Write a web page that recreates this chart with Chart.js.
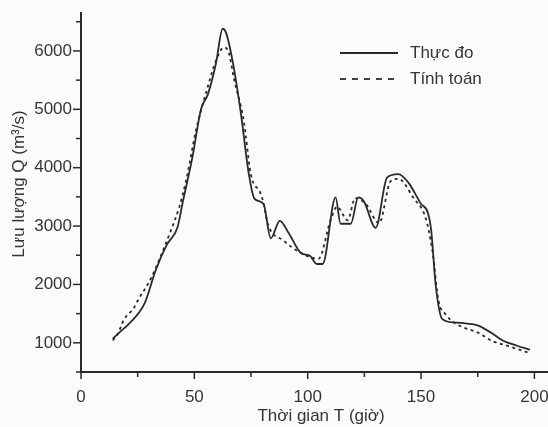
<!DOCTYPE html>
<html>
<head>
<meta charset="utf-8">
<script src="https://cdn.jsdelivr.net/npm/chart.js@4.4.1/dist/chart.umd.min.js"></script>
<style>
  html, body { margin: 0; padding: 0; background: #fbfbf9; }
  #wrap { width: 548px; height: 427px; }
</style>
</head>
<body>
<div id="wrap"><canvas id="flowChart"></canvas></div>
<script>
// measured discharge (Thực đo)
var tMeasured = [14, 17, 21, 28, 33, 38, 42.5, 45, 49, 53, 56, 59.5, 62.5, 64, 67, 70.5, 74, 76.5, 80.5, 83.7,
  87.7, 91.6, 97, 101, 104, 106.6, 112.3, 114.5, 119, 122.3, 124.7, 130, 135, 140, 144.5, 150, 153, 154.5, 156.4, 159.3,
  164.4, 172.5, 175.5, 180.6, 186.5, 192.4, 198];
var qMeasured = [1070, 1180, 1320, 1670, 2250, 2690, 2970, 3430, 4150, 5010, 5260, 5780, 6380, 6310, 5800, 4940, 3900, 3470, 3380, 2790,
  3090, 2880, 2540, 2490, 2350, 2350, 3490, 3040, 3040, 3490, 3430, 2970, 3830, 3890, 3740, 3380, 3230, 2920, 2010, 1410,
  1350, 1320, 1290, 1180, 1030, 950, 880];

// computed discharge (Tính toán)
var tComputed = [14, 16.2, 19, 23.4, 25, 30.8, 39.6, 43.3, 46.3, 50.7, 55.8, 59.5, 63, 65.2, 67.4, 71.8, 74.9, 79.3, 80.6, 82.4,
  89.4, 97, 104.8, 110, 113, 117.6, 121, 125.6, 131.5, 136.6, 140, 146.7, 152, 155, 157.7, 160.8, 164.4, 168.9, 174.8, 181.4,
  188, 194, 197.4];
var qComputed = [1040, 1150, 1400, 1600, 1720, 2100, 2920, 3320, 3770, 4630, 5370, 5830, 6060, 5970, 5540, 4800, 3890, 3550, 3380, 3040,
  2750, 2540, 2440, 3090, 3330, 3100, 3480, 3380, 3050, 3770, 3810, 3480, 3140, 2580, 1720, 1490, 1350, 1260, 1180, 1030,
  950, 875, 830];

var xTicks = [0, 25, 50, 75, 100, 125, 150, 175, 200];
var yTicks = [500, 1000, 1500, 2000, 2500, 3000, 3500, 4000, 4500, 5000, 5500, 6000, 6500];
var seriesNames = ['Thực đo', 'Tính toán'];
var xTitle = 'Thời gian T (giờ)';
var yTitle = 'Lưu lượng Q (m³/s)';

var ink = '#2a2a2a';
var textInk = '#353535';
var fontFamily = '"Liberation Sans", Arial, sans-serif';

function toPoints(ts, qs) {
  return ts.map(function(t, i) { return { x: t, y: qs[i] }; });
}

// tick marks, axis titles and legend drawn on top of the chart
var axisDecor = {
  id: 'axisDecor',
  afterDraw: function(chart) {
    var ctx = chart.ctx;
    var area = chart.chartArea;
    var xs = chart.scales.x, ys = chart.scales.y;
    ctx.save();
    ctx.strokeStyle = ink;
    ctx.lineWidth = 1.5;
    xs.ticks.forEach(function(tk) {
      var px = xs.getPixelForValue(tk.value);
      var len = tk.value % 50 === 0 ? 7 : 5;
      ctx.beginPath();
      ctx.moveTo(px, area.bottom);
      ctx.lineTo(px, area.bottom + len);
      ctx.stroke();
    });
    ys.ticks.forEach(function(tk) {
      var py = ys.getPixelForValue(tk.value);
      var len = tk.value % 1000 === 0 ? 8 : 5;
      ctx.beginPath();
      ctx.moveTo(area.left, py);
      ctx.lineTo(area.left - len, py);
      ctx.stroke();
    });

    ctx.fillStyle = textInk;
    ctx.font = '17px ' + fontFamily;
    ctx.textAlign = 'center';
    ctx.textBaseline = 'middle';
    ctx.fillText(xTitle, 321, 416);
    ctx.save();
    ctx.translate(19, 184);
    ctx.rotate(-Math.PI / 2);
    ctx.fillText(yTitle, 0, 0);
    ctx.restore();

    // legend
    ctx.textAlign = 'left';
    chart.data.datasets.forEach(function(ds, i) {
      var ly = 53 + i * 26;
      ctx.strokeStyle = ds.borderColor;
      ctx.lineWidth = ds.borderWidth;
      ctx.setLineDash(i === 0 ? [] : [6, 6]);
      ctx.beginPath();
      ctx.moveTo(340, ly);
      ctx.lineTo(398, ly);
      ctx.stroke();
      ctx.setLineDash([]);
      ctx.fillText(ds.label, 410, ly);
    });
    ctx.restore();
  }
};

var ctx = document.getElementById('flowChart');
var flowChart = new Chart(ctx, {
  type: 'line',
  data: {
    datasets: [{
      label: seriesNames[0],
      data: toPoints(tMeasured, qMeasured),
      borderColor: ink,
      borderWidth: 1.8,
      pointRadius: 0,
      cubicInterpolationMode: 'monotone',
      fill: false
    }, {
      label: seriesNames[1],
      data: toPoints(tComputed, qComputed),
      borderColor: ink,
      borderWidth: 1.8,
      borderDash: [3, 3.5],
      pointRadius: 0,
      cubicInterpolationMode: 'monotone',
      fill: false
    }]
  },
  options: {
    responsive: true,
    maintainAspectRatio: false,
    animation: false,
    layout: { padding: { top: 13, right: 0, bottom: 0, left: 0 } },
    plugins: {
      legend: { display: false },
      tooltip: { enabled: false }
    },
    scales: {
      x: {
        type: 'linear',
        min: 0,
        max: 206,
        afterBuildTicks: function(scale) {
          scale.ticks = xTicks.map(function(v) { return { value: v }; });
        },
        afterFit: function(scale) {
          scale.height = 55;
          scale.paddingLeft = 0;
          scale.paddingRight = 0;
        },
        grid: { display: false, drawTicks: false },
        border: { display: true, color: ink, width: 2 },
        ticks: {
          autoSkip: false,
          maxRotation: 0,
          padding: 15,
          color: textInk,
          font: { family: fontFamily, size: 17 },
          callback: function(v) { return v % 50 === 0 ? v : ''; }
        }
      },
      y: {
        min: 500,
        max: 6650,
        afterBuildTicks: function(scale) {
          scale.ticks = yTicks.map(function(v) { return { value: v }; });
        },
        afterFit: function(scale) {
          scale.width = 81;
          scale.paddingTop = 0;
          scale.paddingBottom = 0;
        },
        grid: { display: false, drawTicks: false },
        border: { display: true, color: ink, width: 2 },
        ticks: {
          autoSkip: false,
          padding: 9,
          color: textInk,
          font: { family: fontFamily, size: 17 },
          callback: function(v) { return v % 1000 === 0 ? v : ''; }
        }
      }
    }
  },
  plugins: [axisDecor]
});
</script>
</body>
</html>
